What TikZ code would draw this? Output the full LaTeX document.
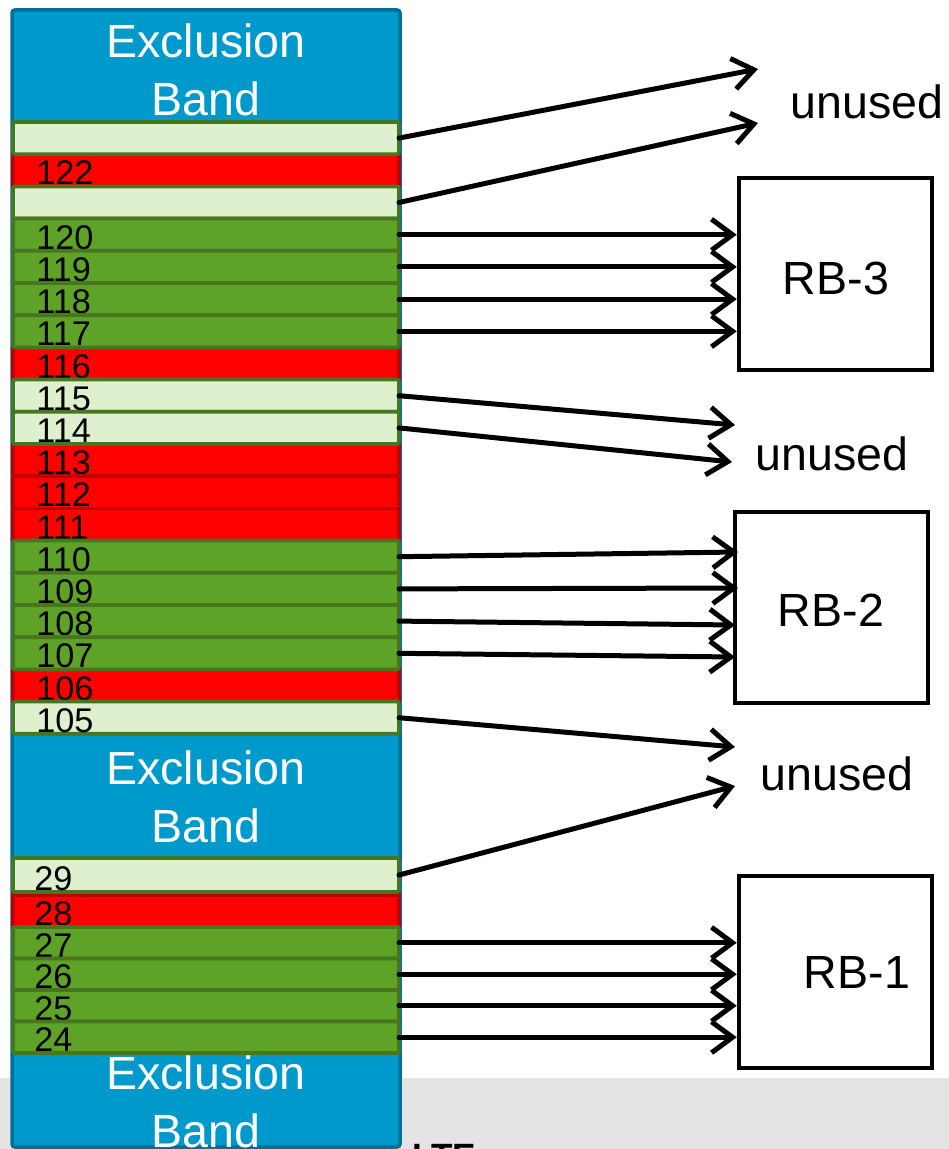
\documentclass[tikz,border=0pt]{standalone}
\usepackage{fontspec}
\setmainfont{Liberation Sans}
\usetikzlibrary{arrows.meta,fit}
\definecolor{bandblue}{RGB}{0,153,204}
\definecolor{bandedge}{RGB}{0,112,150}
\definecolor{lgfill}{RGB}{222,240,206}
\definecolor{gfill}{RGB}{95,162,40}
\definecolor{gedge}{RGB}{72,118,30}
\definecolor{rfill}{RGB}{255,0,0}
\definecolor{redge}{RGB}{192,0,0}
\definecolor{greyband}{RGB}{228,228,228}
\newcommand\rowbox[6]{\node[#4, fit={(13,#2) (399,#3)}] (#1) {}; \node[lbl] (l#1) at (#6,#3-1.5) {#5};}
\newcommand\rowplain[4]{\node[#4, fit={(13,#2) (399,#3)}] (#1) {};}
\begin{document}
\begin{tikzpicture}[x=0.02cm,y=-0.02cm,
  rowbase/.style={rectangle, inner sep=0pt, outer sep=0pt, line width=0.075cm},
  lgrow/.style={rowbase, draw=gedge, fill=lgfill, rounded corners=0.04cm},
  grrow/.style={rowbase, draw=gedge, fill=gfill, rounded corners=0.04cm},
  rdrow/.style={rowbase, draw=redge, fill=rfill},
  lbl/.style={anchor=base west, inner sep=0pt, font=\fontsize{19.5}{19.5}\selectfont},
  band/.style={align=center, text=white, inner sep=0pt, font=\fontsize{26.5}{32.9}\selectfont},
  big/.style={inner sep=0pt, font=\fontsize{26.5}{30}\selectfont},
  rb/.style={rectangle, draw=black, line width=0.09cm, inner sep=0pt, fill=white},
  arr/.style={-{Straight Barb[length=0.42cm,width=0.62cm]}, line width=0.1cm, line cap=round, line join=round}
]
\useasboundingbox (0,0) rectangle (949,1149);
\clip (0,0) rectangle (949,1149);
\fill[white] (0,0) rectangle (949,1149);
\fill[greyband] (0,1078) rectangle (949,1149);

% column
\node[fit={(12,10) (400,1147)}, draw=bandedge, fill=bandblue, line width=0.07cm, rounded corners=0.06cm, inner sep=0pt] (col) {};
\node[band] (exc1) at (206,70) {Exclusion\\Band};
\node[band] (exc2) at (206,797) {Exclusion\\Band};
\node[band] (exc3) at (206,1102) {Exclusion\\Band};

% red rows
\rowbox{r122}{154.2}{186.4}{rdrow}{122}{36}
\rowbox{r116}{347.4}{379.6}{rdrow}{116}{36}
\rowbox{r113}{444.0}{476.2}{rdrow}{113}{36}
\rowbox{r112}{476.2}{508.4}{rdrow}{112}{36}
\rowbox{r111}{508.4}{540.6}{rdrow}{111}{36}
\rowbox{r106}{669.4}{701.6}{rdrow}{106}{36}
\rowbox{r28}{895}{927}{rdrow}{28}{34}

% green and light green rows
\rowplain{ra}{122.0}{154.2}{lgrow}
\rowplain{rb}{186.4}{218.6}{lgrow}
\rowbox{r120}{218.6}{250.8}{grrow}{120}{36}
\rowbox{r119}{250.8}{283.0}{grrow}{119}{36}
\rowbox{r118}{283.0}{315.2}{grrow}{118}{36}
\rowbox{r117}{315.2}{347.4}{grrow}{117}{36}
\rowbox{r115}{379.6}{411.8}{lgrow}{115}{36}
\rowbox{r114}{411.8}{444.0}{lgrow}{114}{36}
\rowbox{r110}{540.6}{572.8}{grrow}{110}{36}
\rowbox{r109}{572.8}{605.0}{grrow}{109}{36}
\rowbox{r108}{605.0}{637.2}{grrow}{108}{36}
\rowbox{r107}{637.2}{669.4}{grrow}{107}{36}
\rowbox{r105}{701.6}{733.8}{lgrow}{105}{36}
\rowbox{r29}{858}{892}{lgrow}{29}{34}
\rowbox{r27}{927}{958.5}{grrow}{27}{34}
\rowbox{r26}{958.5}{990}{grrow}{26}{34}
\rowbox{r25}{990}{1021.5}{grrow}{25}{34}
\rowbox{r24}{1021.5}{1053}{grrow}{24}{34}

% resource blocks
\node[rb, fit={(739,178) (932,370)}] (rb3) {};
\node[rb, fit={(735,512) (928,703)}] (rb2) {};
\node[rb, fit={(739,876) (932,1068)}] (rb1) {};
\node[big] (trb3) at (836,278) {RB-3};
\node[big] (trb2) at (831,610) {RB-2};
\node[big] (trb1) at (857,972) {RB-1};

% unused labels
\node[big, anchor=base] (un1) at (867,118) {unused};
\node[big, anchor=base] (un2) at (832,470) {unused};
\node[big, anchor=base] (un3) at (837,790) {unused};

% arrow end points
\coordinate (ua) at (758,69);
\coordinate (ub) at (758,123);
\coordinate (ma) at (735,425);
\coordinate (mb) at (732,462);
\coordinate (ba) at (735,747);
\coordinate (bb) at (735,786);
\coordinate (e110) at (738,552);
\coordinate (e109) at (738,588);
\coordinate (e108) at (735,625);
\coordinate (e107) at (735,657);

\draw[arr] (ra.east) -- (ua);
\draw[arr] (rb.east) -- (ub);
\foreach \r in {r120,r119,r118,r117} \draw[arr] (\r.east) -- (\r.east -| rb3.west);
\draw[arr] (r115.east) -- (ma);
\draw[arr] (r114.east) -- (mb);
\draw[arr] (r110.east) -- (e110);
\draw[arr] (r109.east) -- (e109);
\draw[arr] (r108.east) -- (e108);
\draw[arr] (r107.east) -- (e107);
\draw[arr] (r105.east) -- (ba);
\draw[arr] (r29.east) -- (bb);
\foreach \r in {r27,r26,r25,r24} \draw[arr] (\r.east) -- (\r.east -| rb1.west);

\node[anchor=base west, inner sep=0pt, font=\bfseries\fontsize{20}{20}\selectfont] (lte) at (412,1168) {LTE};
\end{tikzpicture}
\end{document}
